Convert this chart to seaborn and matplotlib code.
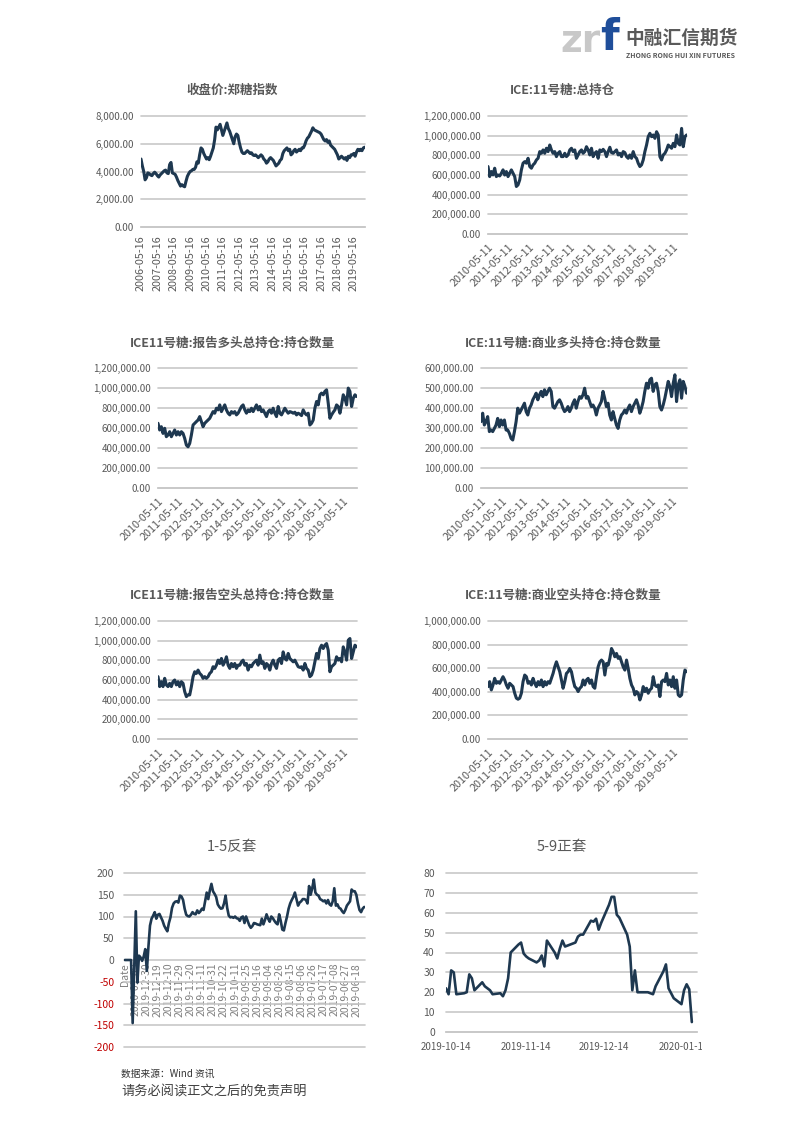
import matplotlib
matplotlib.use('Agg')
import matplotlib.pyplot as plt
import seaborn as sns
import pandas as pd
from matplotlib.ticker import FuncFormatter, MultipleLocator
from matplotlib.transforms import Bbox, TransformedBbox

sns.set_style('white')
plt.rcParams['font.family'] = ['Noto Sans CJK SC', 'DejaVu Sans']
plt.rcParams['axes.unicode_minus'] = False

# ---- data ----
# 收盘价:郑糖指数, monthly closes 2006-05 .. 2020-01
zce_index = [4900, 4400, 4000, 3400, 3550, 3900, 3850, 3750, 3700, 3850, 3950, 3850,
             3700, 3600, 3750, 3850, 3950, 4050, 4100, 3900, 3850, 4500, 4650, 3900,
             3850, 3800, 3600, 3350, 3150, 2950, 3050, 2950, 2900, 3300, 3650, 3850,
             4000, 4050, 4150, 4150, 4300, 4700, 4600, 5200, 5700, 5600, 5300, 5100,
             4900, 5000, 4850, 5100, 5400, 5700, 6300, 7200, 7000, 7200, 7400, 7000,
             6600, 6900, 7200, 7500, 7100, 6900, 6600, 6300, 6000, 6500, 6700, 6600,
             6100, 5700, 5400, 5300, 5300, 5400, 5500, 5400, 5300, 5350, 5200, 5150,
             5200, 5100, 5000, 5100, 5200, 5100, 4900, 4800, 4600, 4700, 4900, 5000,
             4900, 4800, 4600, 4400, 4500, 4600, 4800, 4900, 5300, 5500, 5600, 5700,
             5500, 5600, 5200, 5300, 5500, 5600, 5400, 5500, 5600, 5500, 5700, 5700,
             5900, 6200, 6400, 6500, 6700, 6900, 7150, 7000, 6950, 6900, 6850, 6800,
             6700, 6500, 6300, 6200, 6300, 6100, 6200, 5900, 5800, 5700, 5600, 5400,
             5200, 4900, 5000, 5100, 5000, 4900, 5000, 4800, 5100, 5000, 5200, 5200,
             5300, 5100, 5400, 5600, 5500, 5600, 5500, 5700, 5750]
zce_start, zce_end, zce_axis_end = '2006-05-16', '2020-01-10', '2020-01-17'
zce_ticks = ['%d-05-16' % y for y in range(2006, 2020)]

# ICE 11号糖 CFTC positions (thousand contracts), 2010-05 .. 2020-01
cot_start, cot_end, cot_axis_end = '2010-05-11', '2020-01-07', '2020-01-14'
cot_ticks = ['%d-05-11' % y for y in range(2010, 2020)]

oi_total_k = [686, 584, 635, 601, 669, 584, 600, 590, 618, 652, 600, 635, 584, 618, 652, 618,
              584, 483, 500, 550, 652, 720, 736, 720, 770, 686, 669, 703, 720, 753, 770, 838,
              821, 855, 821, 872, 838, 905, 855, 821, 838, 787, 821, 838, 787, 787, 821, 787,
              804, 855, 872, 838, 855, 770, 804, 838, 855, 821, 838, 888, 855, 804, 872, 787,
              821, 838, 770, 855, 838, 861, 838, 787, 838, 882, 828, 821, 838, 855, 804, 821,
              787, 838, 828, 787, 770, 804, 770, 838, 787, 770, 720, 686, 703, 753, 838, 905,
              990, 1024, 990, 1007, 973, 1040, 1007, 787, 753, 804, 821, 855, 905, 888, 872,
              922, 888, 1007, 922, 905, 1074, 888, 990, 1007]

long_total_k = [647, 580, 613, 546, 597, 513, 530, 563, 513, 546, 580, 530, 563, 530, 563, 546,
                496, 429, 412, 446, 530, 630, 647, 664, 680, 714, 664, 613, 647, 664, 680, 697,
                731, 764, 748, 798, 781, 831, 764, 798, 831, 781, 748, 731, 764, 748, 764, 731,
                748, 781, 815, 831, 781, 748, 781, 764, 798, 764, 798, 831, 781, 815, 764, 781,
                748, 714, 764, 781, 748, 798, 748, 714, 815, 748, 731, 764, 798, 771, 748, 764,
                758, 748, 758, 731, 748, 738, 724, 781, 748, 731, 748, 630, 647, 680, 798, 865,
                831, 932, 949, 932, 966, 982, 848, 697, 731, 758, 781, 831, 815, 748, 831, 932,
                898, 831, 999, 966, 815, 898, 932, 915]

long_comm_k = [332, 374, 315, 332, 357, 282, 290, 282, 298, 315, 348, 307, 340, 315, 340, 290,
               290, 273, 248, 240, 282, 332, 399, 374, 390, 407, 424, 382, 365, 399, 415, 441,
               457, 474, 441, 466, 483, 457, 491, 466, 483, 499, 483, 407, 399, 415, 432, 441,
               424, 399, 382, 390, 407, 382, 399, 424, 441, 399, 432, 457, 449, 466, 499, 449,
               457, 432, 407, 415, 399, 365, 399, 415, 432, 483, 449, 407, 424, 365, 340, 382,
               348, 315, 298, 340, 365, 374, 390, 374, 399, 415, 382, 407, 424, 441, 415, 374,
               399, 432, 483, 524, 499, 541, 549, 483, 516, 524, 483, 407, 390, 415, 449, 491,
               533, 508, 457, 524, 566, 432, 516, 541, 449, 533, 508, 474]

short_total_k = [634, 533, 583, 533, 617, 550, 533, 566, 533, 583, 600, 550, 583, 533, 583, 566,
                 482, 431, 448, 448, 533, 634, 684, 667, 701, 667, 650, 617, 634, 617, 634, 667,
                 684, 735, 718, 751, 802, 768, 819, 751, 785, 836, 751, 718, 768, 735, 768, 718,
                 751, 751, 785, 802, 751, 768, 701, 751, 735, 768, 785, 802, 751, 853, 768, 785,
                 718, 768, 751, 701, 768, 802, 751, 718, 802, 819, 768, 886, 819, 802, 870, 819,
                 802, 785, 802, 768, 735, 728, 735, 701, 768, 718, 701, 634, 650, 701, 785, 870,
                 819, 920, 954, 920, 954, 971, 903, 684, 735, 751, 768, 836, 802, 819, 785, 937,
                 886, 802, 1005, 1022, 819, 886, 954, 937]

short_comm_k = [444, 486, 416, 458, 514, 472, 486, 472, 500, 528, 500, 458, 430, 472, 458, 444,
                388, 346, 337, 346, 388, 486, 542, 528, 472, 486, 458, 514, 472, 444, 486, 458,
                500, 444, 486, 458, 486, 472, 514, 556, 612, 654, 612, 570, 500, 430, 486, 556,
                570, 598, 570, 500, 444, 430, 402, 430, 444, 500, 458, 500, 514, 472, 500, 444,
                430, 528, 612, 654, 669, 654, 542, 640, 626, 683, 767, 739, 697, 725, 683, 697,
                654, 612, 584, 669, 598, 514, 458, 430, 374, 402, 388, 331, 374, 444, 402, 430,
                388, 416, 430, 528, 458, 444, 458, 360, 486, 500, 486, 556, 458, 500, 444, 528,
                430, 500, 374, 360, 374, 500, 584, 570]

# 1-5反套: rows as exported (newest first, header row counted as a category)
spread15 = [0, 0, 0, 0, 0, -145, -20, 112, -52, 10, 6, -2, 8, 25, -25, 30, 79, 95, 102, 110,
            95, 104, 106, 98, 90, 79, 72, 66, 85, 98, 120, 130, 134, 135, 132, 148, 146, 138,
            118, 104, 101, 100, 104, 110, 106, 105, 114, 108, 112, 118, 115, 135, 155, 140,
            160, 175, 158, 152, 145, 128, 122, 118, 119, 130, 148, 120, 102, 98, 99, 97, 100,
            96, 95, 90, 98, 100, 85, 100, 90, 80, 74, 78, 85, 84, 82, 81, 80, 95, 82, 92, 105,
            95, 88, 100, 96, 90, 85, 82, 105, 90, 70, 68, 85, 100, 118, 130, 138, 145, 155,
            140, 125, 132, 135, 140, 140, 138, 130, 170, 150, 165, 185, 155, 150, 148, 140,
            138, 135, 137, 130, 138, 128, 125, 135, 165, 125, 128, 120, 118, 112, 108, 115,
            125, 130, 135, 162, 158, 158, 150, 130, 115, 110, 118, 122]
spread15_labels = ['Date', '2020-01-09', '2019-12-30', '2019-12-19', '2019-12-10', '2019-11-29',
                   '2019-11-20', '2019-11-11', '2019-10-31', '2019-10-22', '2019-10-11',
                   '2019-09-25', '2019-09-16', '2019-09-04', '2019-08-26', '2019-08-15',
                   '2019-08-06', '2019-07-26', '2019-07-17', '2019-07-08', '2019-06-27',
                   '2019-06-18']
spread15_yticks = [-200, -150, -100, -50, 0, 50, 100, 150, 200]

# 5-9正套, trading days 2019-10-14 .. 2020-01-17
spread59 = [22, 19, 31, 30, 19, 19.5, 20, 29, 27, 21, 25, 23, 22, 21,
            19, 19.5, 18, 21, 27, 40, 44, 45, 39.5, 38, 37, 35, 36, 38.5, 33, 46, 40, 37, 42, 46, 43,
            44.5, 45, 48, 49, 49, 56, 55.5, 57, 51.5, 55, 64, 68, 68, 59, 57.5, 49, 43, 21, 31, 20, 20, 20,
            19, 23, 30.5, 34, 22, 19.5, 17, 14, 21, 24, 21.5, 5]
spread59_holidays = ['2020-01-01']
spread59_ticks = ['2019-10-14', '2019-11-14', '2019-12-14', '2020-01-14']

# ---- page ----
W, H = 794, 1123
LINE = '#1e3850'
GRID = '#c8c8c8'
TXT = '#595959'

fig = plt.figure(figsize=(W / 100, H / 100), dpi=100)


def box(l, t, r, b):
    return [l / W, 1 - b / H, (r - l) / W, (b - t) / H]


def base_style(ax, ylo, yhi, ystep, fmt, ypad):
    ax.set_ylim(ylo, yhi)
    ax.yaxis.set_major_locator(MultipleLocator(ystep))
    ax.yaxis.set_major_formatter(FuncFormatter(fmt))
    ax.grid(axis='y', color=GRID, lw=1.2)
    ax.grid(axis='x', visible=False)
    for gl in ax.get_ygridlines():
        gl.set_clip_on(False)
    for s in ['top', 'right', 'left']:
        ax.spines[s].set_visible(False)
    ax.spines['bottom'].set_color(GRID)
    ax.spines['bottom'].set_linewidth(1.2)
    ax.tick_params(axis='y', length=0, labelsize=7, labelcolor=TXT, pad=ypad)
    ax.tick_params(axis='x', length=4, width=1, color=GRID, labelsize=7.5,
                   labelcolor=TXT, direction='out', pad=2)
    ax.set_xlabel('')
    ax.set_ylabel('')


def title(x, y, text, bold=True, size=9):
    fig.text(x / W, 1 - y / H, text, ha='center', va='center', fontsize=size,
             fontweight='bold' if bold else 'normal', color=TXT)


money = lambda v, p: '{:,.2f}'.format(v)

# panel 1
ax1 = fig.add_axes(box(141, 116, 365, 227))
df1 = pd.DataFrame({'date': pd.date_range(zce_start, zce_end, periods=len(zce_index)),
                    'close': zce_index})
sns.lineplot(data=df1, x='date', y='close', ax=ax1, color=LINE, lw=2.2)
ax1.set_xlim(pd.Timestamp(zce_start), pd.Timestamp(zce_axis_end))
base_style(ax1, 0, 8000, 2000, money, 5)
ax1.set_xticks(pd.to_datetime(zce_ticks))
ax1.set_xticklabels(zce_ticks, rotation=90, fontsize=7.8)
title(232, 90, '收盘价:郑糖指数')

cot_panels = [
    ((488, 116, 687, 234), 'ICE:11号糖:总持仓', (562, 90), oi_total_k, 1200000, 200000),
    ((158, 368, 357, 488), 'ICE11号糖:报告多头总持仓:持仓数量', (232, 343), long_total_k, 1200000, 200000),
    ((481, 368, 687, 488), 'ICE:11号糖:商业多头持仓:持仓数量', (563, 343), long_comm_k, 600000, 100000),
    ((158, 621, 357, 739), 'ICE11号糖:报告空头总持仓:持仓数量', (232, 595), short_total_k, 1200000, 200000),
    ((488, 621, 687, 739), 'ICE:11号糖:商业空头持仓:持仓数量', (563, 595), short_comm_k, 1000000, 200000),
]
for rect, name, tpos, vals, ymax, ystep in cot_panels:
    ax = fig.add_axes(box(*rect))
    df = pd.DataFrame({'date': pd.date_range(cot_start, cot_end, periods=len(vals)),
                       'pos': [v * 1000 for v in vals]})
    sns.lineplot(data=df, x='date', y='pos', ax=ax, color=LINE, lw=2.2)
    ax.set_xlim(pd.Timestamp(cot_start), pd.Timestamp(cot_axis_end))
    base_style(ax, 0, ymax, ystep, money, 5)
    ax.set_xticks(pd.to_datetime(cot_ticks))
    ax.set_xticklabels(cot_ticks, rotation=45, ha='right', rotation_mode='anchor', fontsize=7.8)
    title(tpos[0], tpos[1], name)

# panel 7: 1-5反套
ax7 = fig.add_axes(box(124, 873, 365, 1047))
df7 = pd.DataFrame({'row': range(len(spread15)), 'spread': spread15})
sns.lineplot(data=df7, x='row', y='spread', ax=ax7, color=LINE, lw=1.9)
ax7.set_xlim(-0.5, len(spread15) - 0.5)
base_style(ax7, -200, 200, 50, lambda v, p: '%d' % v, 7)
ax7.set_axisbelow(True)
ax7.spines['bottom'].set_position(('data', 0))
ax7.spines['bottom'].set_visible(False)
ax7.set_xticks(range(0, len(spread15), 7))
ax7.set_xticklabels(spread15_labels, rotation=90, fontsize=7.5)
ax7.tick_params(axis='x', length=0, pad=2, labelcolor='#7f7f7f')
ax7.set_yticks(spread15_yticks)
ax7.set_yticklabels([str(v) for v in spread15_yticks], fontsize=7.5)
for lbl, v in zip(ax7.get_yticklabels(), spread15_yticks):
    lbl.set_color('#c00000' if v < 0 else TXT)
for gl in ax7.get_ygridlines():
    gl.set_clip_on(False)
title(232, 847, '1-5反套', bold=False, size=10.5)

# panel 8: 5-9正套
days = pd.bdate_range('2019-10-14', '2020-01-17')
days = days[~days.isin(pd.to_datetime(spread59_holidays))]
df8 = pd.DataFrame({'date': days, 'spread': spread59})
ax8 = fig.add_axes(box(446, 873, 697, 1032))
sns.lineplot(data=df8, x='date', y='spread', ax=ax8, color=LINE, lw=1.9)
ax8.set_xlim(pd.Timestamp('2019-10-14'), pd.Timestamp('2020-01-19'))
base_style(ax8, 0, 80, 10, lambda v, p: '%d' % v, 8)
ax8.set_xticks(pd.to_datetime(spread59_ticks))
ax8.set_xticklabels(spread59_ticks, fontsize=7)
ax8.tick_params(axis='y', labelsize=7.5)
ax8.tick_params(axis='x', pad=3)
clip = TransformedBbox(Bbox([[0, 0], [702 / W, 1]]), fig.transFigure)
for lbl in ax8.get_xticklabels():
    lbl.set_clip_box(clip)
    lbl.set_clip_on(True)
title(562, 847, '5-9正套', bold=False, size=10.5)

# header logo
fig.text(560 / W, 1 - 42 / H, 'zr', fontsize=27, fontweight='bold', color='#c8c8c8',
         va='center', ha='left', family='DejaVu Sans')
fig.text(600 / W, 1 - 38 / H, 'f', fontsize=31, fontweight='bold', color='#1f4e9a',
         va='center', ha='left', family='DejaVu Sans')
fig.text(625 / W, 1 - 38 / H, '中融汇信期货', fontsize=13.5, fontweight='bold', color='#5a5a5a',
         va='center', ha='left')
fig.text(626 / W, 1 - 55 / H, 'ZHONG RONG HUI XIN FUTURES', fontsize=5, fontweight='bold',
         color='#5a5a5a', va='center', ha='left')

# footer
fig.text(121 / W, 1 - 1074 / H, '数据来源：Wind 资讯', fontsize=7, color='#333333',
         va='center', ha='left')
fig.text(121 / W, 1 - 1092 / H, '请务必阅读正文之后的免责声明', fontsize=9.5, color='#404040',
         va='center', ha='left')

fig.savefig('out.png', dpi=100)
